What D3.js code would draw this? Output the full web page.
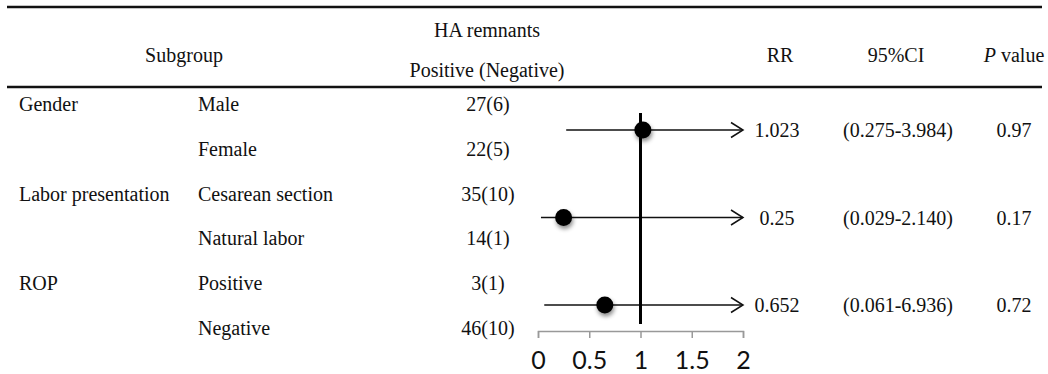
<!DOCTYPE html>
<html>
<head>
<meta charset="utf-8">
<script src="https://cdn.jsdelivr.net/npm/d3@7"></script>
<style>
  body { margin: 0; background: #fff; }
  text { font-family: "Liberation Serif", "Times New Roman", serif; font-size: 20px; fill: #111; }
  .tick text { font-family: Lato, "Open Sans", sans-serif; font-size: 25px; fill: #111; }
</style>
</head>
<body>
<div class="draw"></div>
<script>
// data
const groups = ["Gender", "Labor presentation", "ROP"];
const subgroups = ["Male", "Female", "Cesarean section", "Natural labor", "Positive", "Negative"];
const counts = ["27(6)", "22(5)", "35(10)", "14(1)", "3(1)", "46(10)"];
const rr = [1.023, 0.25, 0.652];
const ciLow = [0.275, 0.029, 0.061];
const ciHigh = [3.984, 2.140, 6.936];
const rrText = ["1.023", "0.25", "0.652"];
const ciText = ["(0.275-3.984)", "(0.029-2.140)", "(0.061-6.936)"];
const pText = ["0.97", "0.17", "0.72"];
const xTicks = [0, 0.5, 1, 1.5, 2];

const width = 1048, height = 374;

const svg = d3.select(".draw")
    .append("svg")
    .attr("width", width)
    .attr("height", height);

// shadow for the dots
const defs = svg.append("defs");
defs.append("filter")
    .attr("id", "shadow")
    .attr("x", "-50%").attr("y", "-50%")
    .attr("width", "200%").attr("height", "200%")
  .append("feDropShadow")
    .attr("dx", 1).attr("dy", 3)
    .attr("stdDeviation", 2)
    .attr("flood-color", "#000")
    .attr("flood-opacity", 0.45);

// scales
const x = d3.scaleLinear().domain([0, 2]).range([538, 743]);
const yRow = d3.scaleLinear().domain([0, 5]).range([104, 328]);
const yPlot = d3.scaleLinear().domain([0, 2]).range([130, 305]);

// header rules
svg.append("line")
    .attr("x1", 7).attr("x2", 1042)
    .attr("y1", 7).attr("y2", 7)
    .attr("stroke", "#111").attr("stroke-width", 2.5);
svg.append("line")
    .attr("x1", 7).attr("x2", 1042)
    .attr("y1", 87).attr("y2", 87)
    .attr("stroke", "#111").attr("stroke-width", 2.5);

// header text
const head = svg.append("g").attr("dominant-baseline", "central").attr("text-anchor", "middle");
head.append("text").attr("x", 184).attr("y", 55).text("Subgroup");
head.append("text").attr("x", 487).attr("y", 30).text("HA remnants");
head.append("text").attr("x", 487).attr("y", 70).text("Positive (Negative)");
head.append("text").attr("x", 780).attr("y", 55).text("RR");
head.append("text").attr("x", 896).attr("y", 55).text("95%CI");
const pv = head.append("text").attr("x", 1014).attr("y", 55);
pv.append("tspan").attr("font-style", "italic").text("P");
pv.append("tspan").text(" value");

// row labels
const rows = svg.append("g").attr("dominant-baseline", "central");
rows.selectAll(".grp")
    .data(groups)
    .join("text")
    .attr("class", "grp")
    .attr("x", 19)
    .attr("y", (d, i) => yRow(i * 2))
    .text(d => d);
rows.selectAll(".sub")
    .data(subgroups)
    .join("text")
    .attr("class", "sub")
    .attr("x", 198)
    .attr("y", (d, i) => yRow(i))
    .text(d => d);
rows.selectAll(".cnt")
    .data(counts)
    .join("text")
    .attr("class", "cnt")
    .attr("x", 488)
    .attr("text-anchor", "middle")
    .attr("y", (d, i) => yRow(i))
    .text(d => d);

// right columns
const right = svg.append("g").attr("dominant-baseline", "central").attr("text-anchor", "middle");
right.selectAll(".rr").data(rrText).join("text")
    .attr("class", "rr").attr("x", 777).attr("y", (d, i) => yPlot(i)).text(d => d);
right.selectAll(".ci").data(ciText).join("text")
    .attr("class", "ci").attr("x", 898).attr("y", (d, i) => yPlot(i)).text(d => d);
right.selectAll(".pv").data(pText).join("text")
    .attr("class", "pv").attr("x", 1014).attr("y", (d, i) => yPlot(i)).text(d => d);

// axis
const xAxisGroup = svg.append("g")
    .attr("transform", "translate(0, 331)");
xAxisGroup.call(d3.axisBottom(x).tickValues(xTicks).tickSize(7).tickPadding(13).tickFormat(d => d));
xAxisGroup.select(".domain").attr("stroke", "#999").attr("stroke-width", 1.5);
xAxisGroup.selectAll(".tick line").attr("stroke", "#999").attr("stroke-width", 1.5);

// CI lines with arrows past the axis end
const plot = svg.append("g");
const idx = d3.range(rr.length);
plot.selectAll(".ci-line").data(idx).join("line")
    .attr("class", "ci-line")
    .attr("x1", i => x(Math.max(ciLow[i], 0)))
    .attr("x2", i => x(Math.min(ciHigh[i], 2)))
    .attr("y1", i => yPlot(i)).attr("y2", i => yPlot(i))
    .attr("stroke", "#111").attr("stroke-width", 1.5);

plot.selectAll(".arrow").data(idx.filter(i => ciHigh[i] > 2)).join("path")
    .attr("class", "arrow")
    .attr("d", i => {
      const tx = x(2), ty = yPlot(i);
      return `M${tx - 12},${ty - 7.5}L${tx},${ty}L${tx - 12},${ty + 7.5}`;
    })
    .attr("fill", "none").attr("stroke", "#111").attr("stroke-width", 1.5);

// reference line at RR = 1
plot.append("line")
    .attr("x1", x(1)).attr("x2", x(1))
    .attr("y1", 113).attr("y2", 324)
    .attr("stroke", "#000").attr("stroke-width", 3);

// points
plot.selectAll(".dot").data(idx).join("circle")
    .attr("class", "dot")
    .attr("cx", i => x(rr[i]))
    .attr("cy", i => yPlot(i))
    .attr("r", 8.5)
    .attr("fill", "#000")
    .attr("filter", "url(#shadow)");
</script>
</body>
</html>
